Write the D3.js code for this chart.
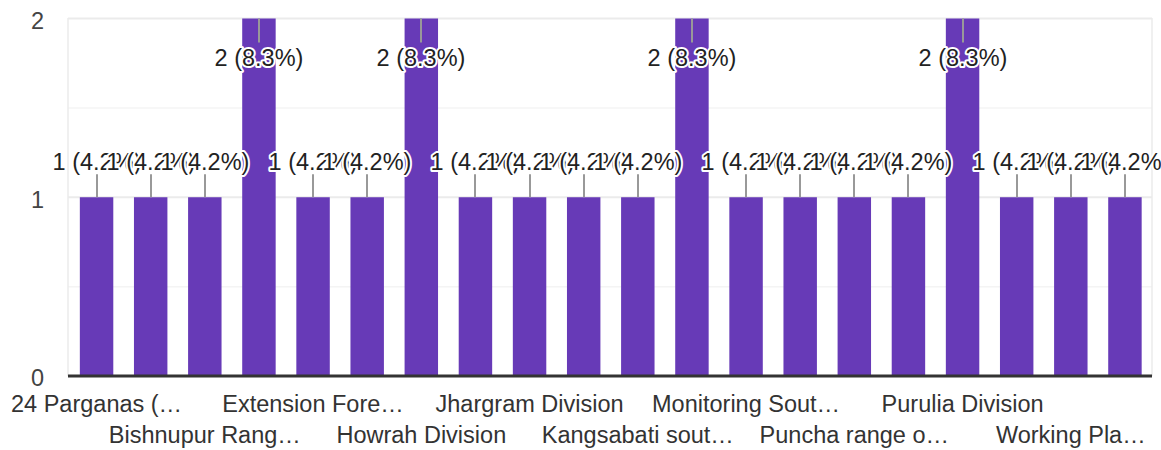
<!DOCTYPE html>
<html>
<head>
<meta charset="utf-8">
<script src="https://cdn.jsdelivr.net/npm/d3@7"></script>
<style>
  html, body { margin: 0; padding: 0; background: #fff; }
  svg { display: block; font-family: Arial, "Liberation Sans", sans-serif; }
</style>
</head>
<body>
<svg id="chart" width="1161" height="450"></svg>
<script>
// categories in the order the form lists them; only every other name fits under the axis
const categories = [
  '24 Parganas (…', 'Bankura South Division', 'Bishnupur Rang…', 'Durgapur Division',
  'Extension Fore…', 'Hooghly Division', 'Howrah Division', 'Jalpaiguri Division',
  'Jhargram Division', 'Kalimpong Division', 'Kangsabati sout…', 'Medinipur Division',
  'Monitoring Sout…', 'Nadia Division', 'Puncha range o…', 'Purulia (East) Division',
  'Purulia Division', 'Silviculture South', 'Working Pla…', 'Working Plan North'
];
const counts = [1, 1, 1, 2, 1, 1, 2, 1, 1, 1, 1, 2, 1, 1, 1, 1, 2, 1, 1, 1];
const yTicks = [0, 1, 2];
const yGrid = [0, 0.5, 1, 1.5, 2];

const total = d3.sum(counts);
const data = categories.map((c, i) => ({ name: c, value: counts[i], i }));

const svg = d3.select('#chart');
const plotLeft = 68, plotRight = 1152, plotTop = 18, plotBottom = 376;
const fontSize = '23.5px';

const x = d3.scaleBand()
  .domain(categories)
  .range([69.5, plotRight])
  .paddingInner(0.382)
  .paddingOuter(0.191);

const y = d3.scaleLinear().domain([0, 2]).range([plotBottom, 18.5]);

// frame + gridlines
const grid = svg.append('g');
grid.selectAll('line.h')
  .data(yGrid)
  .join('line')
  .attr('class', 'h')
  .attr('x1', plotLeft).attr('x2', plotRight)
  .attr('y1', d => y(d)).attr('y2', d => y(d))
  .attr('stroke', d => d % 1 === 0 ? '#ebebeb' : '#f4f4f4')
  .attr('stroke-width', d => d % 1 === 0 ? 2 : 1.5);
grid.selectAll('line.v')
  .data([plotLeft, plotRight])
  .join('line')
  .attr('class', 'v')
  .attr('x1', d => d).attr('x2', d => d)
  .attr('y1', plotTop).attr('y2', plotBottom)
  .attr('stroke', '#ebebeb')
  .attr('stroke-width', 1.5);

// bars
svg.append('g').selectAll('rect')
  .data(data)
  .join('rect')
  .attr('x', d => x(d.name))
  .attr('width', x.bandwidth())
  .attr('y', d => y(d.value))
  .attr('height', d => y(0) - y(d.value))
  .attr('fill', '#673ab7');

// baseline
svg.append('line')
  .attr('x1', plotLeft).attr('x2', plotRight)
  .attr('y1', plotBottom).attr('y2', plotBottom)
  .attr('stroke', '#333').attr('stroke-width', 3);

// y axis
const yAxis = svg.append('g')
  .attr('transform', `translate(${plotLeft - 24},0)`)
  .call(d3.axisLeft(y).tickValues(yTicks).tickSize(0).tickFormat(d3.format('d')));
yAxis.select('.domain').remove();
yAxis.selectAll('text')
  .attr('x', 0)
  .attr('dy', '0.42em')
  .attr('fill', '#444')
  .style('font-size', fontSize)
  .style('font-family', 'Arial, "Liberation Sans", sans-serif');

// x axis, alternating rows, every other label
const xAxis = svg.append('g')
  .attr('transform', `translate(0,${plotBottom})`)
  .call(d3.axisBottom(x).tickSize(0));
xAxis.select('.domain').remove();
xAxis.selectAll('.tick')
  .filter((d, i) => i % 2 === 1)
  .remove();
xAxis.selectAll('.tick text')
  .attr('y', (d, i) => i % 2 === 0 ? 36 : 67)
  .attr('dy', 0)
  .attr('fill', '#333')
  .style('font-size', fontSize)
  .style('font-family', 'Arial, "Liberation Sans", sans-serif');

// data labels with leader lines
const fmt = d => `${d.value} (${(d.value / total * 100).toFixed(1)}%)`;
const atTop = d => d.value === y.domain()[1];
const cx = d => Math.round(x(d.name) + x.bandwidth() / 2);

svg.append('g').selectAll('line')
  .data(data)
  .join('line')
  .attr('x1', cx)
  .attr('x2', cx)
  .attr('y1', d => y(d.value))
  .attr('y2', d => atTop(d) ? y(d.value) + 24 : y(d.value) - 23)
  .attr('stroke', '#999')
  .attr('stroke-width', 2);

svg.append('g').selectAll('text')
  .data(data)
  .join('text')
  .attr('x', cx)
  .attr('y', d => atTop(d) ? y(d.value) + 47 : y(d.value) - 27)
  .attr('text-anchor', 'middle')
  .attr('fill', '#222')
  .attr('stroke', '#fff')
  .attr('stroke-width', 4)
  .attr('stroke-linejoin', 'round')
  .attr('paint-order', 'stroke')
  .style('font-size', fontSize)
  .text(fmt);
</script>
</body>
</html>
